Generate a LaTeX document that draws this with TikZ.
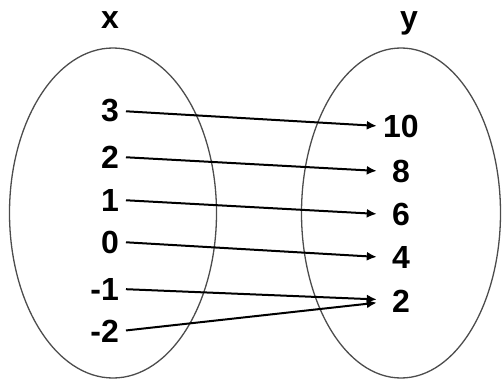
\documentclass[tikz,border=0pt]{standalone}
\usepackage{fontspec}
\setmainfont{Liberation Sans}
\usetikzlibrary{shapes.geometric,arrows.meta}
\begin{document}
\begin{tikzpicture}[x=1pt,y=-1pt,
	set/.style={ ellipse, draw=black!70, line width=1.3pt, inner sep=0pt, minimum height=330pt },
	num/.style={ font=\fontsize{32}{38}\selectfont\bfseries, inner sep=2pt },
	numr/.style={ num, minimum width=44pt },
	mapsto/.style={ -{Latex[length=10pt,width=9pt]}, line width=2pt, shorten <=5pt, shorten >=2pt }
]
\useasboundingbox (0,0) rectangle (504,383);

\node at (113,213) (setx) [set,minimum width=207pt] {};
\node at (401,213) (sety) [set,minimum width=199pt] {};
\node at (110,28) (namex) [num,anchor=base] {x};
\node at (409,28) (namey) [num,anchor=base] {y};

\node at (121,111) (xthree) [num,anchor=east] {3};
\node at (121,157) (xtwo) [num,anchor=east] {2};
\node at (121,200) (xone) [num,anchor=east] {1};
\node at (121,242) (xzero) [num,anchor=east] {0};
\node at (121,289) (xmone) [num,anchor=east] {-1};
\node at (121,331) (xmtwo) [num,anchor=east] {-2};

\node at (401,126) (yten) [numr] {10};
\node at (401,171) (yeight) [numr] {8};
\node at (401,214) (ysix) [numr] {6};
\node at (401,257) (yfour) [numr] {4};
\node at (401,301) (ytwo) [numr] {2};

\draw[mapsto] (xthree.east) to (yten.west);
\draw[mapsto] (xtwo.east) to (yeight.west);
\draw[mapsto] (xone.east) to (ysix.west);
\draw[mapsto] (xzero.east) to (yfour.west);
\draw[mapsto] (xmone.east) to ([yshift=1.5pt]ytwo.west);
\draw[mapsto] (xmtwo.east) to ([yshift=-1.5pt]ytwo.west);

\end{tikzpicture}
\end{document}
